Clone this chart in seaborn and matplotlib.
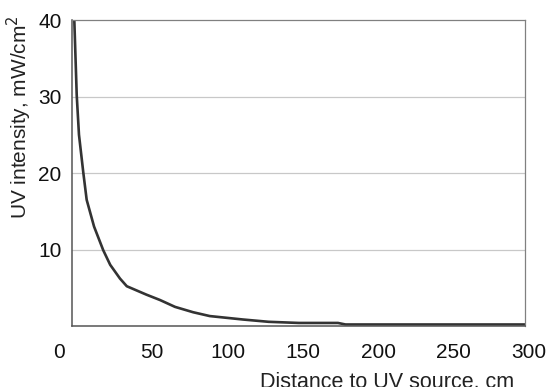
import matplotlib
matplotlib.use("Agg")
import matplotlib.pyplot as plt
import matplotlib.transforms as mtransforms
import seaborn as sns
import pandas as pd

distance_cm = [1.2, 2.8, 4.3, 7.2, 9.4, 14.3, 20.4, 25.0, 31.5, 36.0, 49.0, 58.0,
               68.0, 80.0, 91.0, 113.0, 130.0, 150.0, 176.0, 181.0, 300.0]
uv_intensity = [40.0, 30.2, 25.0, 20.0, 16.5, 13.0, 9.9, 8.0, 6.2, 5.2, 4.1, 3.4,
                2.5, 1.8, 1.3, 0.85, 0.55, 0.4, 0.4, 0.2, 0.2]
x_ticks = [0, 50, 100, 150, 200, 250, 300]
y_ticks = [10, 20, 30, 40]

df = pd.DataFrame({"Distance": distance_cm, "UV": uv_intensity})

sns.set_theme(style="white")
plt.rcParams["font.family"] = ["Liberation Sans", "DejaVu Sans"]

fig = plt.figure(figsize=(5.5, 3.87), dpi=100)
ax = fig.add_axes([0.1318, 0.1576, 0.9545 - 0.1318, 0.9483 - 0.1576])

sns.lineplot(data=df, x="Distance", y="UV", ax=ax, color="#333333", linewidth=1.9,
             sort=False)
for ln in ax.get_lines():
    ln.set_solid_joinstyle("round")
    ln.set_solid_capstyle("round")

ax.set_xlim(0, 300)
ax.set_ylim(0, 40)
ax.set_xticks(x_ticks)
ax.set_yticks(y_ticks)
ax.set_xticklabels([str(t) for t in x_ticks], fontsize=15, color="#111111")
ax.set_yticklabels([str(t) for t in y_ticks], fontsize=15, color="#111111")
ax.tick_params(axis="x", length=0, pad=12)
ax.tick_params(axis="y", length=0, pad=8)

for i, lab in enumerate(ax.get_xticklabels()):
    dx = -10 / 72 if i == 0 else 3 / 72
    lab.set_transform(lab.get_transform() +
                      mtransforms.ScaledTranslation(dx, 0, fig.dpi_scale_trans))

for y in [10, 20, 30]:
    ax.axhline(y, color="#c8c8c8", linewidth=0.9, zorder=0)

for side in ["left", "bottom"]:
    ax.spines[side].set_color("#555555")
    ax.spines[side].set_linewidth(1.1)
for side in ["top", "right"]:
    ax.spines[side].set_color("#808080")
    ax.spines[side].set_linewidth(0.9)

ax.set_xlabel("Distance to UV source, cm", fontsize=15.5, color="#222222")
ax.set_ylabel("UV intensity, mW/cm$^{2}$", fontsize=15, color="#222222")
ax.xaxis.set_label_coords((387 - 72.5) / 452.5, (326 - 388) / 306)
ax.xaxis.label.set_va("baseline")
ax.yaxis.set_label_coords((19 - 72.5) / 452.5, (326 - 117) / 306)
ax.yaxis.label.set_va("center")

fig.savefig("out.png", dpi=100)
